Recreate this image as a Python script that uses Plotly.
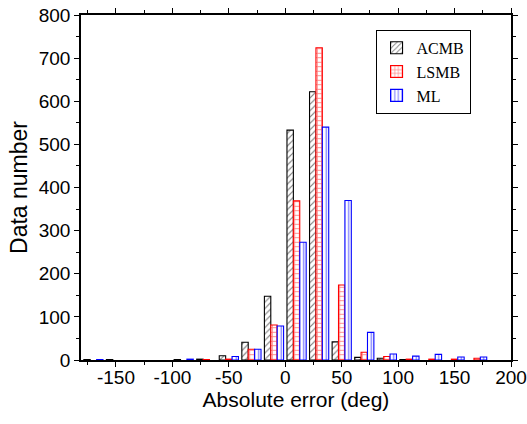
import plotly.graph_objects as go

centers = [-190, -170, -150, -130, -110, -90, -70, -50, -30, -10,
           10, 30, 50, 70, 90, 110, 130, 150, 170, 190]
acmb = [None, 1, 1, None, None, 1, 2, 10, 41, 148, 533, 622, 42, 6, 4, 1, None, None, None, None]
lsmb = [None, None, None, None, None, None, 1, 2, 25, 81, 369, 724, 174, 18, 8, 2, 2, 2, 4, None]
ml = [None, 1, None, None, None, 2, None, 8, 25, 79, 273, 540, 370, 64, 14, 9, 13, 7, 7, None]
x_ticks = [-150, -100, -50, 0, 50, 100, 150, 200]
x_labels = ["-150", "-100", "-50", "0", "50", "100", "150", "200"]

series = [
    ("ACMB", acmb, "black", "/", 0.25),
    ("LSMB", lsmb, "red", "+", 0.35),
    ("ML", ml, "blue", "|", 0.3),
]

fig = go.Figure()
for name, vals, col, shape, sol in series:
    fig.add_trace(go.Bar(
        x=centers, y=vals, name=name,
        marker=dict(color="white",
                    line=dict(color=col, width=1.1),
                    pattern=dict(shape=shape, fgcolor=col, bgcolor="white",
                                 size=4.5, solidity=sol, fillmode="overlay")),
    ))

axis_common = dict(showline=True, linecolor="black", linewidth=1.6, mirror="ticks",
                   ticks="outside", ticklen=5, tickwidth=1.3, tickcolor="black",
                   showgrid=False, zeroline=False, automargin=False,
                   tickfont=dict(family="Liberation Sans, Arial", size=19, color="black"))

fig.update_layout(
    width=527, height=424,
    margin=dict(l=81, r=16, t=15, b=64),
    paper_bgcolor="white", plot_bgcolor="white",
    barmode="group", bargap=0.15, bargroupgap=0.0,
    xaxis=dict(range=[-181, 200], tickvals=x_ticks, ticktext=x_labels,
               ticklabelstandoff=-6,
               minor=dict(dtick=25, tick0=0, ticklen=3, tickcolor="black", ticks="outside"),
               title=dict(text="Absolute error (deg)", standoff=2,
                          font=dict(family="Liberation Sans, Arial", size=21, color="black")),
               **axis_common),
    yaxis=dict(range=[0, 800], tick0=0, dtick=100,
               minor=dict(dtick=50, ticklen=3, tickcolor="black", ticks="outside"),
               title=dict(text="Data number", standoff=5,
                          font=dict(family="Liberation Sans, Arial", size=23, color="black")),
               **axis_common),
    legend=dict(x=0.685, y=0.957, xanchor="left", yanchor="top",
                bgcolor="white", bordercolor="black", borderwidth=1,
                font=dict(family="Liberation Serif, Times New Roman", size=16, color="black"),
                itemwidth=30, tracegroupgap=0),
    showlegend=True,
)

fig.write_html("out.html", config={"displayModeBar": False},
               post_script="document.body.style.margin='0';document.body.style.padding='0';document.body.style.overflow='hidden';")
